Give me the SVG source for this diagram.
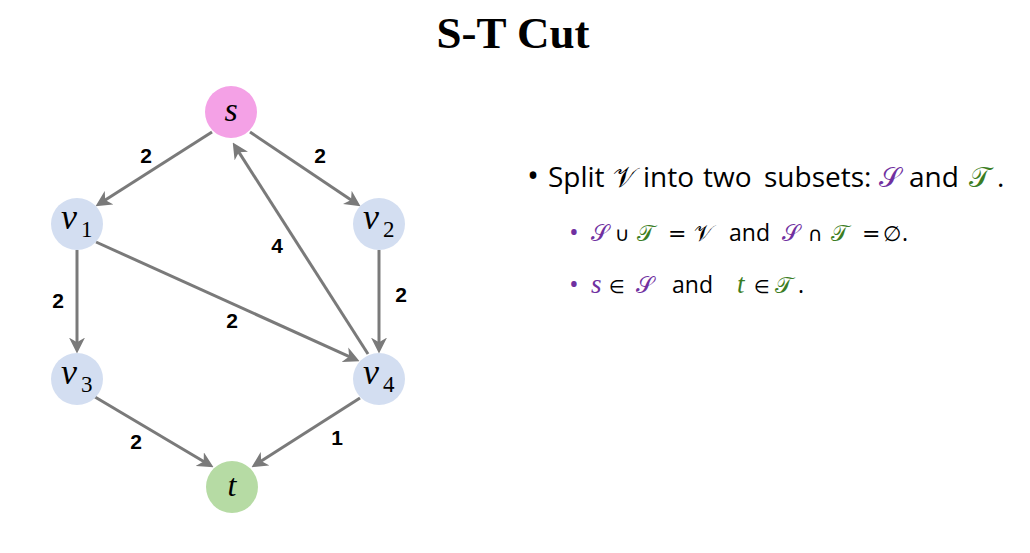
<svg xmlns="http://www.w3.org/2000/svg" width="1030" height="553" viewBox="0 0 1030 553">
<style>
.title{font-family:"Liberation Serif",serif;font-weight:bold;font-size:45px;fill:#000}
.edge{stroke:#7a7a7a;stroke-width:3;fill:none;marker-end:url(#arr)}
.lbl{font-family:"Liberation Sans",Arial,sans-serif;font-weight:bold;font-size:21px;fill:#000;text-anchor:middle}
.mi{font-family:"Liberation Serif",serif;font-style:italic}
.sub{font-family:"Liberation Serif",serif}
.txt{font-family:"Open Sans","Noto Sans",sans-serif;fill:#000}
.scr{font-family:"DejaVu Serif","DejaVu Sans",serif}
.sym{font-family:"DejaVu Sans",sans-serif}
.pur{fill:#7030A0}
.grn{fill:#3B7D23}
</style>
<defs>
<marker id="arr" markerUnits="userSpaceOnUse" markerWidth="16" markerHeight="16" viewBox="0 0 14 14" refX="10" refY="7" orient="auto">
<path d="M0,0 L14,7 L0,14 L4,7 Z" fill="#7a7a7a"/>
</marker>
</defs>
<rect width="1030" height="553" fill="#fff"/>
<text class="title" x="513" y="48" text-anchor="middle">S-T Cut</text>
<g id="connectors">
<line class="edge" x1="212" y1="132" x2="99.4" y2="203.8"/>
<line class="edge" x1="250" y1="132" x2="356.7" y2="203.8"/>
<line class="edge" x1="368" y1="354" x2="235.2" y2="146.4"/>
<line class="edge" x1="77" y1="250" x2="77" y2="349"/>
<line class="edge" x1="96" y1="242" x2="355.4" y2="359.4"/>
<line class="edge" x1="379" y1="250" x2="379" y2="349"/>
<line class="edge" x1="95" y1="397" x2="209.6" y2="465"/>
<line class="edge" x1="360" y1="398" x2="255.4" y2="464.8"/>
<text class="lbl" x="146" y="163">2</text>
<text class="lbl" x="320" y="163">2</text>
<text class="lbl" x="277" y="253">4</text>
<text class="lbl" x="58" y="308">2</text>
<text class="lbl" x="232" y="328">2</text>
<text class="lbl" x="401" y="302">2</text>
<text class="lbl" x="136" y="449">2</text>
<text class="lbl" x="337" y="445">1</text>
</g>
<g id="node-s">
<circle cx="231" cy="112" r="26" fill="#F4A1E6"/>
<text class="mi" x="231" y="121" font-size="34" text-anchor="middle">s</text>
</g>
<g id="node-v1">
<circle cx="77" cy="224" r="26" fill="#D3DEF1"/>
<text class="mi" x="61" y="229" font-size="36">v</text><text class="sub" x="81" y="237" font-size="23">1</text>
</g>
<g id="node-v2">
<circle cx="379" cy="224" r="26" fill="#D3DEF1"/>
<text class="mi" x="363" y="229" font-size="36">v</text><text class="sub" x="383" y="237" font-size="23">2</text>
</g>
<g id="node-v3">
<circle cx="77" cy="379" r="26" fill="#D3DEF1"/>
<text class="mi" x="61" y="384" font-size="36">v</text><text class="sub" x="81" y="392" font-size="23">3</text>
</g>
<g id="node-v4">
<circle cx="379" cy="379" r="26" fill="#D3DEF1"/>
<text class="mi" x="363" y="384" font-size="36">v</text><text class="sub" x="383" y="392" font-size="23">4</text>
</g>
<g id="node-t">
<circle cx="232" cy="487" r="26" fill="#B6DBA4"/>
<text class="mi" x="232" y="496" font-size="32" text-anchor="middle">t</text>
</g>
<g id="text-block">
<text class="txt" font-size="28" y="187"><tspan x="527" font-size="32">•</tspan><tspan x="548">Split</tspan><tspan class="scr" x="613">𝒱</tspan><tspan x="643">into</tspan><tspan x="703">two</tspan><tspan x="764">subsets:</tspan><tspan class="scr pur" x="879">𝒮</tspan><tspan x="909">and</tspan><tspan class="scr grn" x="969">𝒯</tspan><tspan x="997">.</tspan></text>
<text class="txt" font-size="23" y="241"><tspan class="pur" x="569" font-size="26">•</tspan><tspan class="scr pur" x="591">𝒮</tspan><tspan class="sym" font-size="20" x="615">∪</tspan><tspan class="scr grn" x="637">𝒯</tspan><tspan class="sym" font-size="22" x="668">=</tspan><tspan class="scr" x="694">𝒱</tspan><tspan x="729">and</tspan><tspan class="scr pur" x="782">𝒮</tspan><tspan class="sym" font-size="20" x="808">∩</tspan><tspan class="scr grn" x="831">𝒯</tspan><tspan class="sym" font-size="22" x="862">=</tspan><tspan class="sym" font-size="21" x="883">∅</tspan><tspan x="902">.</tspan></text>
<text class="txt" font-size="23" y="293"><tspan class="pur" x="569" font-size="26">•</tspan><tspan class="mi pur" x="591" font-size="27">s</tspan><tspan class="sym" font-size="18" x="609">∈</tspan><tspan class="scr pur" x="636">𝒮</tspan><tspan x="672">and</tspan><tspan class="mi grn" x="737" font-size="27">t</tspan><tspan class="sym" font-size="18" x="754">∈</tspan><tspan class="scr grn" x="775">𝒯</tspan><tspan x="798">.</tspan></text>
</g>
</svg>
